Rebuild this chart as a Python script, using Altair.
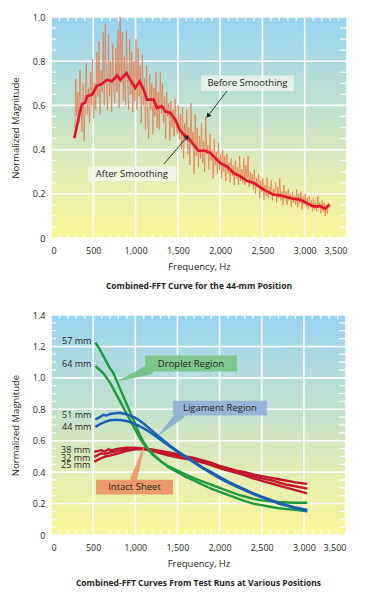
import altair as alt
import pandas as pd

FONT = "Open Sans"
INK = "#231f20"

# ---------------- Top chart data (44-mm position) ----------------
raw_start, raw_step = 280, 12.5
raw_mag = [
    0.46, 0.72, 0.55, 0.66, 0.52, 0.76, 0.60, 0.48, 0.70, 0.44, 0.63, 0.79, 0.56, 0.68, 0.52, 0.75, 0.60, 0.81, 0.54, 0.70,
    0.58, 0.84, 0.64, 0.89, 0.56, 0.76, 0.66, 0.93, 0.60, 0.97, 0.70, 0.58, 0.92, 0.64, 0.80, 0.57, 0.88, 0.68, 0.61, 0.86,
    0.66, 0.94, 0.59, 1.00, 0.70, 0.93, 0.62, 0.82, 0.60, 0.94, 0.72, 0.58, 0.90, 0.65, 0.84, 0.57, 0.80, 0.62, 0.90, 0.58,
    0.86, 0.64, 0.78, 0.52, 0.83, 0.60, 0.72, 0.49, 0.78, 0.56, 0.45, 0.74, 0.58, 0.70, 0.47, 0.68, 0.55, 0.75, 0.50, 0.66,
    0.49, 0.75, 0.56, 0.70, 0.52, 0.64, 0.45, 0.66, 0.55, 0.61, 0.44, 0.62, 0.50, 0.58, 0.46, 0.63, 0.52, 0.47, 0.60, 0.45,
    0.56, 0.40, 0.59, 0.36, 0.52, 0.44, 0.58, 0.38, 0.50, 0.33, 0.61, 0.42, 0.48, 0.29, 0.56, 0.37, 0.50, 0.32, 0.46, 0.36,
    0.52, 0.34, 0.44, 0.30, 0.55, 0.38, 0.42, 0.31, 0.47, 0.35, 0.40, 0.27, 0.45, 0.33, 0.39, 0.29, 0.43, 0.31, 0.38, 0.27,
    0.40, 0.30, 0.37, 0.26, 0.38, 0.29, 0.34, 0.25, 0.36, 0.28, 0.33, 0.24, 0.35, 0.27, 0.32, 0.24, 0.37, 0.26, 0.31, 0.25,
    0.36, 0.24, 0.33, 0.27, 0.37, 0.23, 0.30, 0.25, 0.29, 0.22, 0.31, 0.20, 0.27, 0.23, 0.29, 0.18, 0.26, 0.21, 0.27, 0.17,
    0.24, 0.19, 0.27, 0.18, 0.23, 0.20, 0.26, 0.17, 0.22, 0.19, 0.25, 0.16, 0.23, 0.18, 0.27, 0.17, 0.21, 0.15, 0.24, 0.18,
    0.21, 0.15, 0.22, 0.17, 0.20, 0.14, 0.21, 0.16, 0.19, 0.15, 0.22, 0.14, 0.20, 0.16, 0.21, 0.13, 0.19, 0.15, 0.20, 0.14,
    0.18, 0.13, 0.19, 0.14, 0.17, 0.12, 0.18, 0.13, 0.16, 0.12, 0.19, 0.14, 0.16, 0.11, 0.17, 0.12, 0.16, 0.10, 0.15, 0.11,
    0.16, 0.14,
]
raw_freq = [raw_start + raw_step * i for i in range(len(raw_mag))]

smooth_freq = [276, 327, 366, 406, 425, 485, 544, 603, 662, 721, 780, 819, 890,
               937, 997, 1048, 1103, 1135, 1214, 1253, 1312, 1351, 1411, 1470,
               1521, 1568, 1627, 1686, 1745, 1824, 1883, 1942, 2002, 2080, 2159,
               2238, 2317, 2396, 2474, 2553, 2632, 2711, 2790, 2868, 2947, 3026,
               3105, 3184, 3243, 3294]
smooth_mag = [0.452, 0.543, 0.606, 0.614, 0.641, 0.649, 0.689, 0.697, 0.716,
              0.709, 0.735, 0.716, 0.747, 0.716, 0.679, 0.709, 0.664, 0.626,
              0.626, 0.588, 0.596, 0.573, 0.566, 0.535, 0.490, 0.468, 0.452,
              0.422, 0.395, 0.395, 0.385, 0.362, 0.339, 0.324, 0.294, 0.279,
              0.259, 0.249, 0.229, 0.211, 0.196, 0.193, 0.184, 0.178, 0.173,
              0.158, 0.143, 0.143, 0.133, 0.151]

# ---------------- Bottom chart data (various positions) ----------------
g57_f = [526, 580, 620, 660, 700, 740, 780, 820, 860, 900, 940, 980, 1020, 1060, 1100,
         1150, 1200, 1300, 1400, 1500, 1600, 1700, 1800, 1900, 2000, 2100, 2200,
         2300, 2400, 2500, 2600, 2700, 2800, 2900, 3040]
g57_m = [1.225, 1.18, 1.14, 1.10, 1.06, 1.03, 0.98, 0.93, 0.88, 0.83, 0.78, 0.73,
         0.68, 0.63, 0.59, 0.55, 0.52, 0.47, 0.43, 0.40, 0.37, 0.345, 0.32, 0.295,
         0.275, 0.255, 0.235, 0.215, 0.20, 0.19, 0.18, 0.17, 0.165, 0.16, 0.15]
g64_f = g57_f
g64_m = [1.075, 1.05, 1.03, 1.00, 0.97, 0.93, 0.89, 0.85, 0.81, 0.77, 0.73, 0.69,
         0.65, 0.61, 0.58, 0.545, 0.515, 0.47, 0.435, 0.41, 0.385, 0.36, 0.34,
         0.32, 0.30, 0.28, 0.26, 0.245, 0.23, 0.22, 0.215, 0.21, 0.207, 0.205, 0.205]
b51_f = [526, 580, 620, 660, 700, 760, 820, 880, 940, 1000, 1060, 1120, 1180, 1250,
         1340, 1420, 1500, 1600, 1700, 1800, 1900, 2000, 2100, 2200, 2300, 2400,
         2500, 2600, 2700, 2800, 2900, 3040]
b51_m = [0.735, 0.75, 0.765, 0.76, 0.77, 0.775, 0.778, 0.77, 0.76, 0.745, 0.725,
         0.70, 0.672, 0.64, 0.60, 0.565, 0.535, 0.50, 0.465, 0.43, 0.40, 0.37,
         0.34, 0.315, 0.29, 0.265, 0.245, 0.225, 0.205, 0.19, 0.175, 0.16]
b44_f = [526, 580, 640, 700, 760, 820, 880, 940, 1000, 1060, 1120, 1180, 1250, 1340,
         1420, 1500, 1600, 1700, 1800, 1900, 2000, 2100, 2200, 2300, 2400, 2500,
         2600, 2700, 2800, 2900, 3040]
b44_m = [0.688, 0.705, 0.72, 0.73, 0.733, 0.732, 0.727, 0.718, 0.705, 0.69, 0.672,
         0.652, 0.625, 0.59, 0.56, 0.53, 0.495, 0.46, 0.425, 0.393, 0.362, 0.333,
         0.307, 0.283, 0.26, 0.24, 0.22, 0.20, 0.185, 0.17, 0.153]
r38_f = [514, 560, 600, 640, 680, 720, 800, 900, 1000, 1100, 1200, 1300, 1400, 1500,
         1600, 1700, 1800, 1900, 2000, 2100, 2200, 2300, 2400, 2500, 2600, 2700,
         2800, 2900, 3040]
r38_m = [0.53, 0.535, 0.54, 0.53, 0.545, 0.54, 0.55, 0.555, 0.555, 0.55, 0.545,
         0.535, 0.525, 0.515, 0.50, 0.49, 0.475, 0.46, 0.44, 0.425, 0.41, 0.40,
         0.385, 0.375, 0.365, 0.355, 0.345, 0.335, 0.325]
r32_f = [514, 560, 600, 640, 700, 800, 900, 1000, 1100, 1200, 1300, 1400, 1500, 1600,
         1700, 1800, 1900, 2000, 2100, 2200, 2300, 2400, 2500, 2600, 2700, 2800,
         2900, 3040]
r32_m = [0.497, 0.51, 0.52, 0.515, 0.525, 0.535, 0.545, 0.55, 0.55, 0.54, 0.53,
         0.515, 0.505, 0.495, 0.485, 0.47, 0.455, 0.435, 0.42, 0.405, 0.39, 0.375,
         0.36, 0.35, 0.335, 0.32, 0.31, 0.295]
r25_f = [514, 560, 600, 650, 700, 800, 900, 1000, 1100, 1200, 1300, 1400, 1500, 1600,
         1700, 1800, 1900, 2000, 2100, 2200, 2300, 2400, 2500, 2600, 2700, 2800,
         2900, 3040]
r25_m = [0.467, 0.48, 0.49, 0.50, 0.505, 0.52, 0.535, 0.545, 0.545, 0.535, 0.52,
         0.505, 0.495, 0.485, 0.475, 0.46, 0.445, 0.425, 0.41, 0.395, 0.38, 0.36,
         0.345, 0.33, 0.315, 0.30, 0.285, 0.265]

series_names = ["25 mm", "32 mm", "38 mm", "57 mm", "64 mm", "44 mm", "51 mm"]
series_group = ["red", "red", "red", "green", "green", "blue", "blue"]
series_f = [r25_f, r32_f, r38_f, g57_f, g64_f, b44_f, b51_f]
series_m = [r25_m, r32_m, r38_m, g57_m, g64_m, b44_m, b51_m]
label_y = [0.446, 0.492, 0.538, 1.235, 1.087, 0.687, 0.763]

x_ticks = [0, 500, 1000, 1500, 2000, 2500, 3000, 3500]
x_minor = [f for f in range(100, 3500, 100) if f % 500 != 0]

GRAD = alt.LinearGradient(
    gradient="linear", x1=0, y1=0, x2=0, y2=1,
    stops=[alt.GradientStop(offset=0, color="#98d3f1"),
           alt.GradientStop(offset=0.45, color="#c4e2cb"),
           alt.GradientStop(offset=0.75, color="#e7eeb0"),
           alt.GradientStop(offset=1, color="#faf598")])

YLABEL = "datum.value < 0.01 ? '0' : format(datum.value, '.1f')"


def xenc():
    return alt.X("f:Q", scale=alt.Scale(domain=[0, 3500], nice=False),
                 axis=alt.Axis(values=x_ticks, format=",.0f", title="Frequency, Hz",
                               labelOverlap=False, labelPadding=8, titlePadding=6))


def make_yenc(dmax, vals):
    def yenc():
        return alt.Y("m:Q", scale=alt.Scale(domain=[0, dmax], nice=False),
                     axis=alt.Axis(values=vals, tickCount=len(vals), title="Normalized Magnitude",
                                   labelExpr=YLABEL, labelOverlap=False, labelSeparation=0,
                                   labelPadding=6, titlePadding=12))
    return yenc


def backdrop(y_ticks, y_minor, W, H, yenc):
    L = 4
    bg = alt.Chart(pd.DataFrame({"a": [0]})).mark_rect(color=GRAD).encode(
        x=alt.value(0), x2=alt.value(W), y=alt.value(0), y2=alt.value(H))
    gx = alt.Chart(pd.DataFrame({"f": x_ticks})).mark_rule(color="white", strokeWidth=1.6).encode(
        x=xenc(), y=alt.value(0), y2=alt.value(H))
    gy = alt.Chart(pd.DataFrame({"m": y_ticks})).mark_rule(color="white", strokeWidth=1.6).encode(
        y=yenc(), x=alt.value(0), x2=alt.value(W))
    xd = pd.DataFrame({"f": x_minor})
    yd = pd.DataFrame({"m": y_minor})
    base = dict(color="white", strokeWidth=1.2)
    top = alt.Chart(xd).mark_rule(**base).encode(x=xenc(), y=alt.value(0), y2=alt.value(L))
    bot = alt.Chart(xd).mark_rule(**base).encode(x=xenc(), y=alt.value(H - L), y2=alt.value(H))
    lef = alt.Chart(yd).mark_rule(**base).encode(y=yenc(), x=alt.value(0), x2=alt.value(L + 1))
    rig = alt.Chart(yd).mark_rule(**base).encode(y=yenc(), x=alt.value(W - L - 3), x2=alt.value(W))
    return [bg, gx, gy, top, bot, lef, rig]


# ---------------- Top chart ----------------
W1, H1 = 296, 221
y1_ticks = [0, 0.2, 0.4, 0.6, 0.8, 1.0]
y1_minor = [v / 100 for v in range(5, 100, 5) if v % 20 != 0]
yenc1 = make_yenc(1.0, y1_ticks)
raw_df = pd.DataFrame({"f": raw_freq, "m": raw_mag})
sm_df = pd.DataFrame({"f": smooth_freq, "m": smooth_mag})

raw_line = alt.Chart(raw_df).mark_line(color="#e8774a", strokeWidth=0.9, opacity=0.85).encode(
    x=xenc(), y=yenc1())
sm_line = alt.Chart(sm_df).mark_line(color="#e3132b", strokeWidth=2.6).encode(x=xenc(), y=yenc1())

box_df = pd.DataFrame({"f": [1773, 434], "f2": [2873, 1478], "m": [0.665, 0.257], "m2": [0.735, 0.325],
                       "t": ["Before Smoothing", "After Smoothing"]})
box_df["tf"] = (box_df["f"] + box_df["f2"]) / 2
box_df["tm"] = (box_df["m"] + box_df["m2"]) / 2
boxes1 = alt.Chart(box_df).mark_rect(color="#f4f6ee", opacity=0.75).encode(
    x=xenc(), x2="f2", y=yenc1(), y2="m2")
texts1 = alt.Chart(box_df).mark_text(font=FONT, fontSize=9.5, color=INK).encode(
    x=alt.X("tf:Q"), y=alt.Y("tm:Q"), text="t:N")

arrow_df = pd.DataFrame({"f": [2080, 1856, 1336, 1608], "m": [0.665, 0.552, 0.335, 0.457],
                         "k": ["b", "b", "a", "a"], "o": [0, 1, 0, 1]})
arrows = alt.Chart(arrow_df).mark_line(color="#222", strokeWidth=0.9).encode(
    x=xenc(), y=yenc1(), detail="k:N", order="o:Q")
head_df = pd.DataFrame({"f": [1856, 1608], "m": [0.552, 0.457], "a": [217, 40]})
heads = alt.Chart(head_df).mark_point(shape="triangle-up", filled=True, color="#222", size=28,
                                      opacity=1).encode(x=xenc(), y=yenc1(), angle=alt.Angle("a:Q", scale=None))

top = alt.layer(*backdrop(y1_ticks, y1_minor, W1, H1, yenc1), raw_line, sm_line, boxes1, texts1,
                arrows, heads).properties(
    width=W1, height=H1,
    title=alt.TitleParams("Combined-FFT Curve for the 44-mm Position", orient="bottom",
                          font=FONT, fontSize=8.5, fontWeight="bold", color=INK, offset=11, anchor="middle"))

# ---------------- Bottom chart ----------------
W2, H2 = 295, 220
y2_ticks = [0, 0.2, 0.4, 0.6, 0.8, 1.0, 1.2, 1.4]
y2_minor = [v / 100 for v in range(5, 140, 5) if v % 20 != 0]
yenc2 = make_yenc(1.4, y2_ticks)
rows = []
for n, g, fl, ml in zip(series_names, series_group, series_f, series_m):
    for f, m in zip(fl, ml):
        rows.append({"s": n, "g": g, "f": f, "m": m})
curves = pd.DataFrame(rows)

lines2 = []
for grp, col in [("red", "#c0172b"), ("green", "#1d9a3e"), ("blue", "#1a5fb4")]:
    lines2.append(alt.Chart(curves[curves.g == grp]).mark_line(color=col, strokeWidth=2.4).encode(
        x=xenc(), y=yenc2(), detail="s:N"))

lab_df = pd.DataFrame({"s": series_names, "f": [fl[0] for fl in series_f], "m": label_y})
labels2 = alt.Chart(lab_df).mark_text(font=FONT, fontSize=9, color=INK, align="right",
                                      baseline="middle", dx=-4).encode(x=xenc(), y=yenc2(), text="s:N")

wedge_df = pd.DataFrame({
    "k": ["d", "d", "l", "l", "i", "i"],
    "f": [806, 1162, 1277, 1534, 1099, 981],
    "m": [0.982, 1.052, 0.637, 0.764, 0.556, 0.354],
    "w": [1, 10, 1, 9, 1, 7],
    "o": [0, 1, 0, 1, 0, 1],
    "c": ["#6dbb7d", "#6dbb7d", "#86acd4", "#86acd4", "#e8935f", "#e8935f"]})
wedges = alt.Chart(wedge_df).mark_trail(opacity=0.85).encode(
    x=xenc(), y=yenc2(), detail="k:N", order="o:Q",
    size=alt.Size("w:Q", scale=None), color=alt.Color("c:N", scale=None))

cbox_df = pd.DataFrame({
    "t": ["Droplet Region", "Ligament Region", "Intact Sheet"],
    "f": [1115, 1447, 534], "f2": [2206, 2562, 1447],
    "m": [1.040, 0.760, 0.257], "m2": [1.142, 0.855, 0.352],
    "c": ["#7cc489", "#8fb2d9", "#eb9566"]})
cbox_df["tf"] = (cbox_df["f"] + cbox_df["f2"]) / 2
cbox_df["tm"] = (cbox_df["m"] + cbox_df["m2"]) / 2
cboxes = alt.Chart(cbox_df).mark_rect(opacity=0.95).encode(
    x=xenc(), x2="f2", y=yenc2(), y2="m2", color=alt.Color("c:N", scale=None))
ctexts = alt.Chart(cbox_df).mark_text(font=FONT, fontSize=9.5, color=INK).encode(
    x=alt.X("tf:Q"), y=alt.Y("tm:Q"), text="t:N")

bottom = alt.layer(*backdrop(y2_ticks, y2_minor, W2, H2, yenc2), *lines2, wedges, cboxes, ctexts,
                   labels2).properties(
    width=W2, height=H2,
    title=alt.TitleParams("Combined-FFT Curves From Test Runs at Various Positions", orient="bottom",
                          font=FONT, fontSize=8.5, fontWeight="bold", color=INK, offset=11, anchor="middle"))

chart = alt.vconcat(top, bottom, spacing=21).properties(
    padding={"left": 2, "top": 5, "right": 5, "bottom": 5}
).configure_view(
    stroke=None
).configure_axis(
    labelFont=FONT, labelFontSize=9, labelColor=INK,
    titleFont=FONT, titleFontSize=9.5, titleFontWeight="normal", titleColor=INK,
    domain=False, ticks=False, grid=False, labelOverlap=False
)

chart.save("out.html", embed_options={"renderer": "svg", "actions": False})
